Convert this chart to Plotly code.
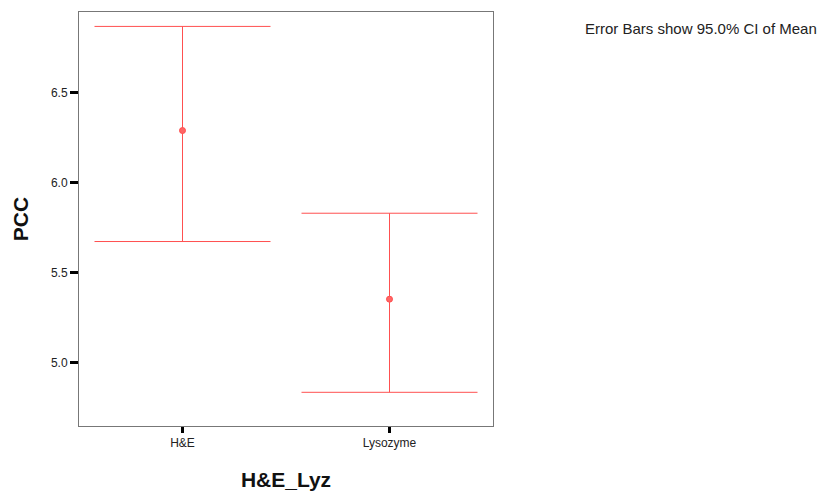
import plotly.graph_objects as go

categories = ["H&E", "Lysozyme"]
means = [6.288, 5.352]
ci_upper = [6.866, 5.829]
ci_lower = [5.672, 4.835]
y_ticks = [5.0, 5.5, 6.0, 6.5]

err_plus = [u - m for u, m in zip(ci_upper, means)]
err_minus = [m - l for m, l in zip(means, ci_lower)]

red = "#ff5050"

fig = go.Figure()
fig.add_trace(go.Scatter(
    x=categories, y=means, mode="markers",
    marker=dict(symbol="circle", size=6, color="#ff6666",
                line=dict(color=red, width=1)),
    error_y=dict(type="data", symmetric=False, array=err_plus, arrayminus=err_minus,
                 color=red, thickness=1, width=88),
    showlegend=False,
))

fig.update_layout(
    width=826, height=494,
    margin=dict(l=71, r=341, t=4, b=76),
    paper_bgcolor="white", plot_bgcolor="white",
    font=dict(family="Liberation Sans, Arial, sans-serif", color="#222"),
    xaxis=dict(
        type="category", range=[-0.5, 1.5],
        showgrid=False, zeroline=False,
        showline=True, linecolor="#777", linewidth=1, mirror=True,
        ticks="outside", ticklen=6, tickwidth=3, tickcolor="black",
        tickfont=dict(size=12, color="#222"),
        title=dict(text="<b>H&E_Lyz</b>", font=dict(size=21, color="#111"), standoff=22),
    ),
    yaxis=dict(
        range=[4.648, 6.946],
        tickvals=y_ticks, ticktext=[f"{v:.1f}" for v in y_ticks],
        showgrid=False, zeroline=False,
        showline=True, linecolor="#777", linewidth=1, mirror=True,
        ticks="outside", ticklen=8, tickwidth=3, tickcolor="black",
        tickfont=dict(size=12, color="#222"),
        title=dict(text="<b>PCC</b>", font=dict(size=21, color="#111"), standoff=16),
    ),
    annotations=[dict(
        text="Error Bars show 95.0% CI of Mean", xref="paper", yref="paper",
        x=1, xanchor="left", xshift=90, y=1, yanchor="top", yshift=-6,
        showarrow=False, font=dict(size=15, color="#222"),
    )],
)

fig.write_html("out.html")
